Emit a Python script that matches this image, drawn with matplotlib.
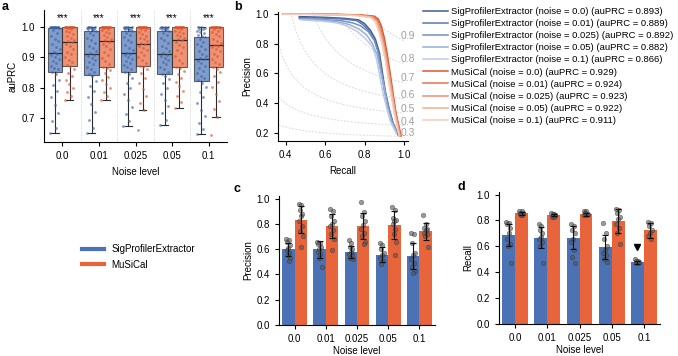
import numpy as np
import matplotlib
matplotlib.use('Agg')
import matplotlib.pyplot as plt
from matplotlib.lines import Line2D

plt.rcParams['font.family'] = ['Liberation Sans', 'DejaVu Sans']
plt.rcParams['font.size'] = 7
plt.rcParams['axes.linewidth'] = 0.8
plt.rcParams['axes.labelpad'] = 2.5
plt.rcParams['xtick.major.width'] = 0.8
plt.rcParams['ytick.major.width'] = 0.8
plt.rcParams['xtick.major.size'] = 3
plt.rcParams['ytick.major.size'] = 3

# ---------------------------------------------------------------- data
noise_labels = ['0.0', '0.01', '0.025', '0.05', '0.1']
methods = ['SigProfilerExtractor', 'MuSiCal']

# panel a: auPRC per simulated sample
aupr_spe = [
    [0.651, 0.668, 0.690, 0.718, 0.742, 0.768, 0.790, 0.808, 0.826, 0.845,
     0.853, 0.860, 0.866, 0.873, 0.880, 0.887, 0.894, 0.901, 0.907, 0.912,
     0.918, 0.926, 0.935, 0.944, 0.953, 0.962, 0.971, 0.980, 0.989, 0.997,
     1.0, 1.0, 1.0, 1.0, 1.0, 1.0, 1.0, 1.0, 1.0, 1.0],
    [0.650, 0.668, 0.695, 0.720, 0.745, 0.768, 0.788, 0.806, 0.822, 0.838,
     0.845, 0.853, 0.861, 0.869, 0.877, 0.885, 0.892, 0.899, 0.905, 0.909,
     0.913, 0.921, 0.930, 0.939, 0.948, 0.956, 0.964, 0.972, 0.980, 0.987,
     0.990, 0.992, 0.994, 0.996, 0.997, 0.998, 0.999, 1.0, 1.0, 1.0],
    [0.673, 0.690, 0.712, 0.735, 0.758, 0.780, 0.800, 0.817, 0.832, 0.846,
     0.853, 0.861, 0.868, 0.875, 0.882, 0.889, 0.896, 0.902, 0.907, 0.911,
     0.915, 0.923, 0.932, 0.941, 0.950, 0.958, 0.966, 0.974, 0.981, 0.987,
     0.990, 0.992, 0.994, 0.996, 0.997, 0.998, 0.999, 1.0, 1.0, 1.0],
    [0.677, 0.695, 0.716, 0.738, 0.760, 0.780, 0.798, 0.814, 0.828, 0.839,
     0.845, 0.853, 0.861, 0.869, 0.877, 0.885, 0.892, 0.899, 0.905, 0.909,
     0.913, 0.921, 0.930, 0.939, 0.948, 0.956, 0.964, 0.972, 0.980, 0.987,
     0.990, 0.992, 0.994, 0.996, 0.997, 0.998, 0.999, 1.0, 1.0, 1.0],
    [0.648, 0.665, 0.685, 0.706, 0.727, 0.748, 0.768, 0.786, 0.802, 0.817,
     0.824, 0.832, 0.840, 0.848, 0.856, 0.864, 0.872, 0.880, 0.887, 0.893,
     0.897, 0.904, 0.912, 0.920, 0.928, 0.936, 0.944, 0.952, 0.959, 0.966,
     0.970, 0.975, 0.980, 0.984, 0.988, 0.992, 0.995, 0.998, 1.0, 1.0],
]
aupr_mus = [
    [0.758, 0.772, 0.785, 0.800, 0.813, 0.826, 0.838, 0.850, 0.861, 0.870,
     0.874, 0.883, 0.892, 0.901, 0.910, 0.919, 0.928, 0.936, 0.943, 0.949,
     0.953, 0.958, 0.964, 0.970, 0.976, 0.982, 0.987, 0.992, 0.996, 0.999,
     1.0, 1.0, 1.0, 1.0, 1.0, 1.0, 1.0, 1.0, 1.0, 1.0],
    [0.758, 0.772, 0.786, 0.799, 0.812, 0.824, 0.836, 0.847, 0.857, 0.864,
     0.868, 0.878, 0.888, 0.898, 0.908, 0.918, 0.928, 0.937, 0.945, 0.952,
     0.956, 0.961, 0.967, 0.973, 0.979, 0.984, 0.989, 0.993, 0.996, 0.999,
     1.0, 1.0, 1.0, 1.0, 1.0, 1.0, 1.0, 1.0, 1.0, 1.0],
    [0.662, 0.725, 0.748, 0.772, 0.795, 0.815, 0.833, 0.848, 0.860, 0.869,
     0.873, 0.882, 0.891, 0.900, 0.909, 0.917, 0.925, 0.932, 0.938, 0.943,
     0.947, 0.953, 0.959, 0.965, 0.971, 0.977, 0.983, 0.989, 0.994, 0.998,
     1.0, 1.0, 1.0, 1.0, 1.0, 1.0, 1.0, 1.0, 1.0, 1.0],
    [0.733, 0.752, 0.772, 0.790, 0.806, 0.820, 0.833, 0.845, 0.855, 0.864,
     0.868, 0.880, 0.892, 0.904, 0.915, 0.925, 0.934, 0.942, 0.950, 0.956,
     0.960, 0.965, 0.970, 0.975, 0.980, 0.984, 0.988, 0.992, 0.996, 0.999,
     1.0, 1.0, 1.0, 1.0, 1.0, 1.0, 1.0, 1.0, 1.0, 1.0],
    [0.645, 0.705, 0.730, 0.756, 0.780, 0.801, 0.820, 0.837, 0.851, 0.863,
     0.868, 0.877, 0.886, 0.895, 0.904, 0.912, 0.920, 0.927, 0.933, 0.938,
     0.942, 0.948, 0.955, 0.962, 0.969, 0.976, 0.982, 0.988, 0.993, 0.998,
     1.0, 1.0, 1.0, 1.0, 1.0, 1.0, 1.0, 1.0, 1.0, 1.0],
]
signif = ['***', '***', '***', '***', '***']

# panel b: precision-recall curves
pr_labels = [
    'SigProfilerExtractor (noise = 0.0) (auPRC = 0.893)',
    'SigProfilerExtractor (noise = 0.01) (auPRC = 0.889)',
    'SigProfilerExtractor (noise = 0.025) (auPRC = 0.892)',
    'SigProfilerExtractor (noise = 0.05) (auPRC = 0.882)',
    'SigProfilerExtractor (noise = 0.1) (auPRC = 0.866)',
    'MuSiCal (noise = 0.0) (auPRC = 0.929)',
    'MuSiCal (noise = 0.01) (auPRC = 0.924)',
    'MuSiCal (noise = 0.025) (auPRC = 0.923)',
    'MuSiCal (noise = 0.05) (auPRC = 0.922)',
    'MuSiCal (noise = 0.1) (auPRC = 0.911)',
]
pr_recall = [
    [0.47, 0.60, 0.70, 0.77, 0.80, 0.83, 0.855, 0.875, 0.89, 0.905, 0.925, 0.945, 0.972],
    [0.47, 0.60, 0.70, 0.76, 0.79, 0.82, 0.85, 0.87, 0.885, 0.90, 0.92, 0.94, 0.968],
    [0.47, 0.58, 0.68, 0.74, 0.78, 0.82, 0.85, 0.87, 0.885, 0.90, 0.92, 0.94, 0.965],
    [0.48, 0.58, 0.66, 0.72, 0.77, 0.81, 0.84, 0.865, 0.88, 0.90, 0.915, 0.935, 0.962],
    [0.48, 0.58, 0.66, 0.71, 0.76, 0.80, 0.84, 0.86, 0.875, 0.89, 0.91, 0.93, 0.96],
    [0.386, 0.50, 0.65, 0.78, 0.85, 0.87, 0.885, 0.90, 0.915, 0.93, 0.945, 0.96, 0.985],
    [0.386, 0.50, 0.65, 0.78, 0.845, 0.865, 0.88, 0.895, 0.912, 0.928, 0.943, 0.958, 0.982],
    [0.386, 0.50, 0.65, 0.78, 0.84, 0.86, 0.878, 0.893, 0.91, 0.926, 0.942, 0.957, 0.98],
    [0.386, 0.50, 0.65, 0.77, 0.835, 0.86, 0.876, 0.892, 0.908, 0.924, 0.94, 0.955, 0.978],
    [0.39, 0.50, 0.65, 0.76, 0.83, 0.855, 0.872, 0.888, 0.905, 0.92, 0.937, 0.952, 0.975],
]
pr_precision = [
    [0.982, 0.977, 0.970, 0.960, 0.935, 0.89, 0.83, 0.74, 0.61, 0.48, 0.36, 0.265, 0.185],
    [0.975, 0.972, 0.965, 0.955, 0.93, 0.89, 0.83, 0.74, 0.62, 0.49, 0.37, 0.27, 0.19],
    [0.968, 0.962, 0.955, 0.94, 0.92, 0.88, 0.82, 0.74, 0.62, 0.50, 0.38, 0.28, 0.20],
    [0.965, 0.958, 0.948, 0.93, 0.90, 0.86, 0.80, 0.72, 0.62, 0.50, 0.38, 0.28, 0.20],
    [0.96, 0.952, 0.94, 0.92, 0.885, 0.84, 0.78, 0.70, 0.60, 0.49, 0.38, 0.28, 0.20],
    [1.0, 0.999, 0.997, 0.993, 0.985, 0.965, 0.92, 0.84, 0.73, 0.60, 0.46, 0.33, 0.18],
    [1.0, 0.999, 0.997, 0.992, 0.982, 0.96, 0.91, 0.83, 0.72, 0.59, 0.45, 0.33, 0.18],
    [0.999, 0.998, 0.996, 0.99, 0.98, 0.955, 0.90, 0.82, 0.71, 0.58, 0.45, 0.33, 0.18],
    [0.999, 0.998, 0.995, 0.99, 0.978, 0.95, 0.89, 0.81, 0.70, 0.57, 0.44, 0.32, 0.18],
    [0.998, 0.997, 0.994, 0.988, 0.975, 0.945, 0.88, 0.80, 0.69, 0.56, 0.43, 0.32, 0.18],
]
f1_levels = [0.3, 0.4, 0.5, 0.6, 0.7, 0.8, 0.9]

# panel c: precision (bar = mean, err = sd, dots = replicates)
prec_mean_spe = [0.597, 0.597, 0.576, 0.555, 0.545]
prec_mean_mus = [0.834, 0.782, 0.782, 0.792, 0.742]
prec_sd_spe = [0.055, 0.066, 0.05, 0.06, 0.10]
prec_sd_mus = [0.11, 0.095, 0.10, 0.11, 0.068]
prec_pts_spe = [
    [0.68, 0.67, 0.66, 0.63, 0.61, 0.59, 0.57, 0.55, 0.53, 0.51],
    [0.66, 0.65, 0.64, 0.62, 0.60, 0.58, 0.56, 0.53, 0.46],
    [0.67, 0.65, 0.62, 0.60, 0.58, 0.56, 0.55, 0.53, 0.52],
    [0.65, 0.63, 0.60, 0.57, 0.55, 0.53, 0.51, 0.48],
    [0.73, 0.72, 0.65, 0.57, 0.55, 0.52, 0.49, 0.46, 0.43, 0.41],
]
prec_pts_mus = [
    [0.96, 0.95, 0.91, 0.88, 0.86, 0.82, 0.78, 0.74, 0.70, 0.62],
    [0.92, 0.90, 0.86, 0.82, 0.80, 0.78, 0.75, 0.72, 0.68, 0.59],
    [0.97, 0.89, 0.86, 0.82, 0.79, 0.76, 0.73, 0.70, 0.66, 0.64],
    [0.93, 0.91, 0.85, 0.83, 0.82, 0.80, 0.76, 0.72, 0.66, 0.55],
    [0.87, 0.80, 0.77, 0.76, 0.75, 0.73, 0.72, 0.70, 0.62],
]

# panel d: recall
rec_mean_spe = [0.687, 0.667, 0.667, 0.595, 0.477]
rec_mean_mus = [0.854, 0.841, 0.849, 0.795, 0.723]
rec_sd_spe = [0.085, 0.08, 0.09, 0.095, 0.01]
rec_sd_mus = [0.01, 0.01, 0.012, 0.09, 0.06]
rec_pts_spe = [
    [0.79, 0.78, 0.77, 0.74, 0.70, 0.66, 0.62, 0.60, 0.47],
    [0.77, 0.76, 0.73, 0.70, 0.67, 0.66, 0.63, 0.60, 0.47],
    [0.77, 0.76, 0.73, 0.70, 0.66, 0.63, 0.57, 0.52, 0.47],
    [0.78, 0.70, 0.66, 0.60, 0.57, 0.55, 0.53, 0.50, 0.48],
    [0.50, 0.49, 0.49, 0.48, 0.48, 0.47, 0.47],
]
rec_pts_mus = [
    [0.87, 0.87, 0.86, 0.86, 0.85, 0.85, 0.84, 0.84],
    [0.86, 0.85, 0.84, 0.84, 0.83, 0.83, 0.84, 0.85],
    [0.87, 0.87, 0.86, 0.85, 0.85, 0.84, 0.84, 0.86],
    [0.89, 0.88, 0.86, 0.83, 0.81, 0.77, 0.74, 0.70, 0.62],
    [0.79, 0.78, 0.76, 0.73, 0.70, 0.68, 0.66],
]
rec_flag = (4, 0.597)  # black triangle above SigProfilerExtractor, noise 0.1

# ---------------------------------------------------------------- style
BLUE = '#4A72B5'
ORANGE = '#E8643A'
BLUE_DOT = '#3D63A8'
ORANGE_DOT = '#D9552C'
blue_shades = ['#3F5C94', '#5877AE', '#7390C2', '#97AFD6', '#BACBE7']
orange_shades = ['#D95A30', '#E4734C', '#EC9070', '#F2AF95', '#F6CDBC']

W, H = 678, 356
fig = plt.figure(figsize=(W / 100, H / 100), dpi=100)


def px_rect(left, top, right, bottom):
    """Axes rectangle from pixel edges of the reference."""
    return [left / W, 1 - bottom / H, (right - left) / W, (bottom - top) / H]


def jitter(n, width):
    # deterministic spread of strip points
    return ((np.arange(n) * 0.618034) % 1 - 0.5) * width


def clean(ax):
    ax.spines['top'].set_visible(False)
    ax.spines['right'].set_visible(False)


x = np.arange(len(noise_labels))

# ---------------------------------------------------------------- a
ax = fig.add_axes(px_rect(44, 10, 227, 142))
for data, off, col, dcol in ((aupr_spe, -0.2, BLUE, BLUE_DOT),
                             (aupr_mus, 0.2, ORANGE, ORANGE_DOT)):
    bp = ax.boxplot(data, positions=x + off, widths=0.4, patch_artist=True,
                    showfliers=False, manage_ticks=False,
                    medianprops=dict(color='#2b2b2b', lw=0.9),
                    whiskerprops=dict(color='#2b2b2b', lw=0.8),
                    capprops=dict(color='#2b2b2b', lw=0.8),
                    boxprops=dict(edgecolor='#2b2b2b', lw=0.8))
    for patch in bp['boxes']:
        patch.set_facecolor(col)
        patch.set_alpha(0.7)
        patch.set_edgecolor('#2b2b2b')
    for i, vals in enumerate(data):
        ax.scatter(x[i] + off + jitter(len(vals), 0.26), vals, s=4,
                   color=dcol, alpha=0.65, lw=0, zorder=3)
for i, s in enumerate(signif):
    ax.text(x[i], 1.03, s, ha='center', va='center', fontsize=7)
for b in x[:-1] + 0.5:
    ax.axvline(b, color='#c4c4c4', lw=0.6, ls=':', zorder=0)
ax.set_xlim(-0.5, 4.5)
ax.set_ylim(0.621, 1.056)
ax.set_yticks([0.7, 0.8, 0.9, 1.0])
ax.set_xticks(x)
ax.set_xticklabels(noise_labels)
ax.set_xlabel('Noise level', labelpad=4)
ax.set_ylabel('auPRC')
clean(ax)

# ---------------------------------------------------------------- b
ax = fig.add_axes(px_rect(278, 12, 408, 141))
xs = np.linspace(0.01, 1.0, 200)
for f in f1_levels:
    ys = f * xs / (2 * xs - f)
    keep = ys >= 0
    ax.plot(xs[keep], ys[keep], color='#dadada', lw=0.7, ls=(0, (2, 1.5)), zorder=0)
    ax.text(0.985, f * 0.985 / (2 * 0.985 - f) + 0.025, '%.1f' % f,
            color='#a0a0a0', fontsize=7.5, ha='left', va='center', clip_on=False)
colors = blue_shades + orange_shades
lines = []
for k in range(len(pr_labels)):
    l, = ax.plot(pr_recall[k], pr_precision[k], color=colors[k], lw=1.1,
                 label=pr_labels[k])
    lines.append(l)
ax.set_xlim(0.362, 1.02)
ax.set_ylim(0.146, 1.013)
ax.set_xticks([0.4, 0.6, 0.8, 1.0])
ax.set_yticks([0.2, 0.4, 0.6, 0.8, 1.0])
ax.set_xlabel('Recall', labelpad=4)
ax.set_ylabel('Precision')
clean(ax)
fig.legend(lines, pr_labels, loc='upper left', bbox_to_anchor=(423 / W, 1 - 7 / H),
           frameon=False, fontsize=6.8, handlelength=2.6, handletextpad=0.35,
           labelspacing=0.33, borderpad=0, borderaxespad=0)


# ---------------------------------------------------------------- c, d
def bar_panel(rect, m_spe, m_mus, sd_spe, sd_mus, p_spe, p_mus, ylabel):
    ax = fig.add_axes(rect)
    ax.bar(x - 0.2, m_spe, width=0.4, color=BLUE)
    ax.bar(x + 0.2, m_mus, width=0.4, color=ORANGE)
    for off, pts in ((-0.2, p_spe), (0.2, p_mus)):
        for i, vals in enumerate(pts):
            ax.scatter(x[i] + off + jitter(len(vals), 0.14), vals, s=11,
                       color='#555555', alpha=0.6, lw=0.4,
                       edgecolor='#333333', zorder=3)
    ax.errorbar(x - 0.2, m_spe, yerr=sd_spe, fmt='none', ecolor='#111111',
                elinewidth=0.8, capsize=2, capthick=0.8, zorder=4)
    ax.errorbar(x + 0.2, m_mus, yerr=sd_mus, fmt='none', ecolor='#111111',
                elinewidth=0.8, capsize=2, capthick=0.8, zorder=4)
    ax.set_xlim(-0.5, 4.5)
    ax.set_ylim(0, 1.02)
    ax.set_yticks([0.0, 0.2, 0.4, 0.6, 0.8, 1.0])
    ax.set_xticks(x)
    ax.set_xticklabels(noise_labels)
    ax.set_xlabel('Noise level', labelpad=1.5)
    ax.set_ylabel(ylabel)
    clean(ax)
    return ax


bar_panel(px_rect(279, 196, 435, 325), prec_mean_spe, prec_mean_mus,
          prec_sd_spe, prec_sd_mus, prec_pts_spe, prec_pts_mus, 'Precision')
ax_d = bar_panel(px_rect(499, 192, 660, 324), rec_mean_spe, rec_mean_mus,
                 rec_sd_spe, rec_sd_mus, rec_pts_spe, rec_pts_mus, 'Recall')
ax_d.plot(x[rec_flag[0]] - 0.2, rec_flag[1], marker='v', color='black',
          ms=5, ls='none', zorder=5)

# shared legend for bars
handles = [Line2D([], [], color=BLUE, lw=3), Line2D([], [], color=ORANGE, lw=3)]
fig.legend(handles, methods, loc='upper left', bbox_to_anchor=(82 / W, 1 - 244 / H),
           frameon=False, fontsize=7, handlelength=2.3, handletextpad=0.7,
           labelspacing=0.6, borderpad=0, borderaxespad=0)

# panel letters
for s, px, py in (('a', 2, 10), ('b', 234, 10), ('c', 233, 192), ('d', 458, 190)):
    fig.text(px / W, 1 - py / H, s, fontsize=9, fontweight='bold',
             ha='left', va='baseline')

fig.savefig('out.png', dpi=100)
